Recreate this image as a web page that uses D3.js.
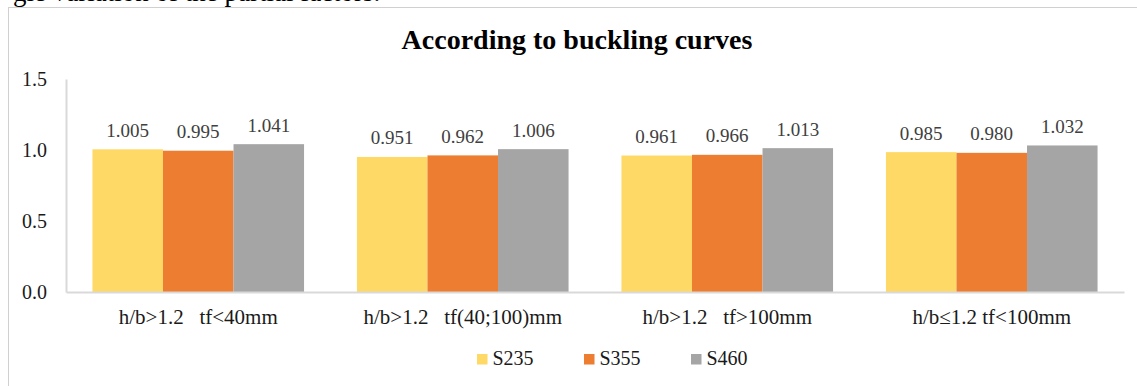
<!DOCTYPE html>
<html>
<head>
<meta charset="utf-8">
<script src="https://cdn.jsdelivr.net/npm/d3@7"></script>
<style>
  html, body { margin: 0; padding: 0; background: #fff; }
  svg { display: block; }
  text { font-family: "Liberation Serif", "Times New Roman", serif; }
</style>
</head>
<body>
<svg id="chart" width="1137" height="386"></svg>
<script>
// Resistance ratio by section class and steel grade
const categories = [
  "h/b>1.2   tf<40mm",
  "h/b>1.2   tf(40;100)mm",
  "h/b>1.2   tf>100mm",
  "h/b\u22641.2 tf<100mm"
];
const seriesNames = ["S235", "S355", "S460"];
const s235 = [1.005, 0.951, 0.961, 0.985];
const s355 = [0.995, 0.962, 0.966, 0.980];
const s460 = [1.041, 1.006, 1.013, 1.032];
const yTicks = [0, 0.5, 1.0, 1.5];
const colors = ["#FFD966", "#ED7D31", "#A5A5A5"];

const seriesValues = [s235, s355, s460];
const rows = categories.map((c, i) => ({
  category: c,
  values: seriesNames.map((s, j) => ({ series: s, value: seriesValues[j][i] }))
}));

const svg = d3.select("#chart");

// Running text line of the page above the chart (cut by the top edge)
svg.append("text")
  .attr("x", 13).attr("y", 0.5)
  .attr("font-size", 27).attr("fill", "#000")
  .text("gle variation of the partial factors.");

// Chart frame
svg.append("rect")
  .attr("x", 8.5).attr("y", 7.5)
  .attr("width", 1137).attr("height", 400)
  .attr("fill", "#fff").attr("stroke", "#d0d0d0").attr("stroke-width", 1);

// Title
svg.append("text")
  .attr("x", 577).attr("y", 49)
  .attr("text-anchor", "middle")
  .attr("font-size", 28).attr("font-weight", "bold").attr("fill", "#000")
  .text("According to buckling curves");

const x0 = d3.scaleBand().domain(categories).range([66, 1124])
  .paddingInner(0.2).paddingOuter(0.1);
const x1 = d3.scaleBand().domain(seriesNames).range([0, x0.bandwidth()]);
const y = d3.scaleLinear().domain([0, 1.5]).range([292, 79]);
const color = d3.scaleOrdinal().domain(seriesNames).range(colors);

// Y axis
const yAxis = svg.append("g").attr("transform", "translate(66,0)")
  .call(d3.axisLeft(y).tickValues(yTicks).tickFormat(d3.format(".1f")).tickSize(0).tickPadding(19));
yAxis.select(".domain").attr("stroke", "#d9d9d9").attr("stroke-width", 2);
yAxis.selectAll("text")
  .attr("font-family", "Liberation Serif, Times New Roman, serif")
  .attr("font-size", 20).attr("fill", "#1a1a1a").attr("dy", "0.33em");

// Bars
const groups = svg.append("g").selectAll("g").data(rows).join("g")
  .attr("transform", d => `translate(${x0(d.category)},0)`);

groups.selectAll("rect").data(d => d.values).join("rect")
  .attr("x", d => x1(d.series))
  .attr("width", x1.bandwidth())
  .attr("y", d => y(d.value))
  .attr("height", d => y(0) - y(d.value))
  .attr("fill", d => color(d.series));

groups.selectAll("text").data(d => d.values).join("text")
  .attr("x", d => x1(d.series) + x1.bandwidth() / 2)
  .attr("y", d => y(d.value) - 12.5)
  .attr("text-anchor", "middle")
  .attr("font-size", 19).attr("fill", "#404040")
  .text(d => d3.format(".3f")(d.value));

// X axis
const xAxis = svg.append("g").attr("transform", "translate(0,292)")
  .call(d3.axisBottom(x0).tickSize(0).tickPadding(17));
xAxis.select(".domain").attr("stroke", "#d9d9d9").attr("stroke-width", 2);
xAxis.selectAll("text")
  .attr("font-family", "Liberation Serif, Times New Roman, serif")
  .attr("font-size", 21).attr("fill", "#1a1a1a")
  .style("white-space", "pre");

// Legend
const legend = svg.append("g").selectAll("g").data(seriesNames).join("g")
  .attr("transform", (d, i) => `translate(${477 + i * 107},354)`);
legend.append("rect")
  .attr("width", 10.5).attr("height", 10.5)
  .attr("fill", d => color(d));
legend.append("text")
  .attr("x", 15.5).attr("y", 11)
  .attr("font-size", 20).attr("fill", "#1a1a1a")
  .text(d => d);
</script>
</body>
</html>
